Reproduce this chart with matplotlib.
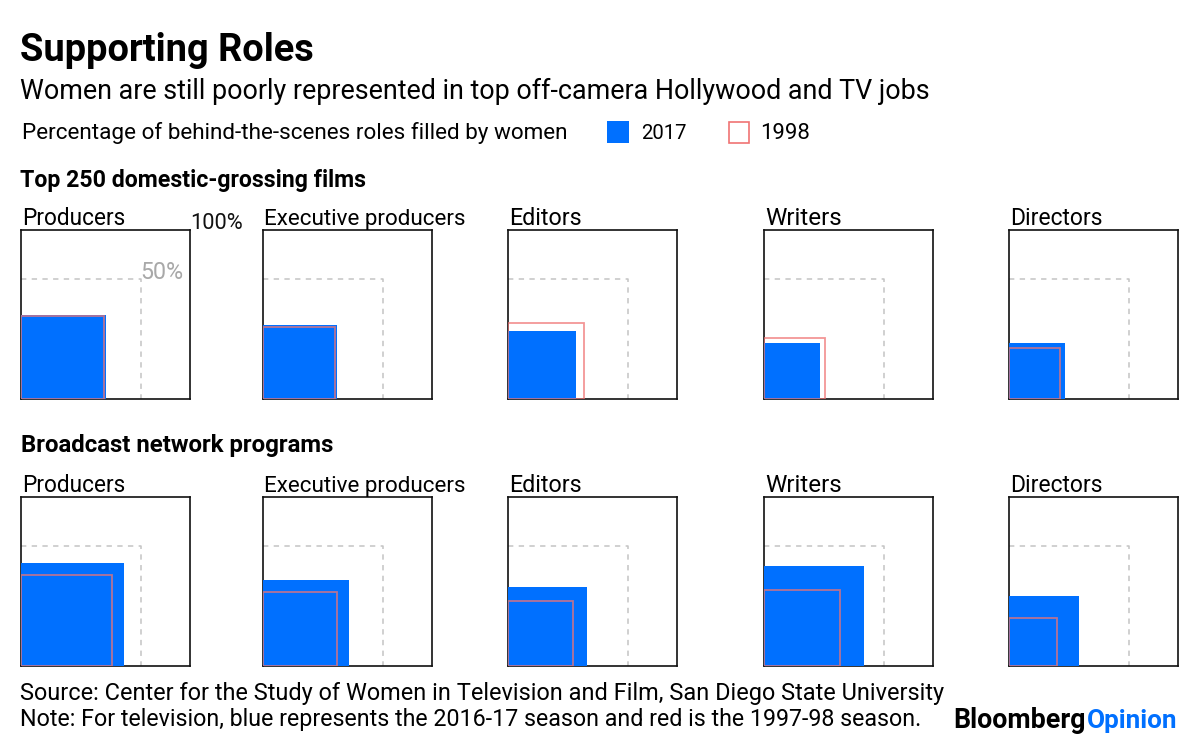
import matplotlib
matplotlib.use("Agg")
import matplotlib.pyplot as plt
from matplotlib.patches import Rectangle
import numpy as np

# ---- data (percent of roles filled by women) ----
roles = ["Producers", "Executive producers", "Editors", "Writers", "Directors"]
film_2017 = [25, 19, 16, 11, 11]
film_1998 = [24, 18, 20, 13, 9]
tv_2017 = [37, 26, 22, 35, 17]
tv_1998 = [29, 19, 15, 20, 8]
sections = ["Top 250 domestic-grossing films", "Broadcast network programs"]
legend_labels = ["2017", "1998"]

BLUE = "#0070ff"
RED = "#f07373"
FONT = "Roboto"

W, H = 1200, 747
fig = plt.figure(figsize=(W / 100, H / 100), dpi=100)
fig.patch.set_facecolor("white")


def fx(x):
    return x / W


def fy(y):
    return 1 - y / H


renderer = fig.canvas.get_renderer()


def fit(t, width):
    bb = t.get_window_extent(renderer=renderer)
    if width is not None and bb.width > 0:
        t.set_fontsize(t.get_fontsize() * width / bb.width)
    return t


def fit_text(x, y, s, width, size, **kw):
    t = fig.text(fx(x), fy(y), s, fontsize=size, **kw)
    return fit(t, width)


# header texts
fit_text(20, 61, "Supporting Roles", 294, 20, fontweight="bold", family=FONT, va="baseline")
fit_text(20, 99, "Women are still poorly represented in top off-camera Hollywood and TV jobs",
         910, 17, family=FONT, va="baseline")
fit_text(22, 139, "Percentage of behind-the-scenes roles filled by women", 549, 14,
         family=FONT, va="baseline")

# legend squares
lax = fig.add_axes([0, 0, 1, 1], zorder=-1)
lax.set_xlim(0, W)
lax.set_ylim(H, 0)
lax.axis("off")
lax.add_patch(Rectangle((607, 121), 22, 22, facecolor=BLUE, edgecolor="none"))
lax.add_patch(Rectangle((728.5, 121.5), 20, 21, facecolor="none", edgecolor=RED, lw=1.2))
fit_text(641, 139, legend_labels[0], 46, 14, family=FONT, va="baseline")
fit_text(760, 139, legend_labels[1], 50, 14, family=FONT, va="baseline")

# section headers
fit_text(20, 187, sections[0], 347, 13, family=FONT, fontweight="bold", va="baseline")
fit_text(21, 452, sections[1], 313, 13, family=FONT, fontweight="bold", va="baseline")

col_left = [21, 263, 508, 764, 1009]
row_top = [230, 497]
SIDE = 169
label_w = [104, 202, 73, 77, 93]

for r, (v17, v98) in enumerate([(film_2017, film_1998), (tv_2017, tv_1998)]):
    for c in range(5):
        left = col_left[c]
        top = row_top[r]
        ax = fig.add_axes([fx(left), fy(top + SIDE), SIDE / W, SIDE / H])
        ax.set_xscale("function", functions=(np.sqrt, np.square))
        ax.set_yscale("function", functions=(np.sqrt, np.square))
        ax.set_xlim(0, 100)
        ax.set_ylim(0, 100)
        ax.set_xticks([])
        ax.set_yticks([])
        for sp in ax.spines.values():
            sp.set_linewidth(1.2)
            sp.set_color("#111111")
        ax.plot([0, 50, 50], [50, 50, 0], ls=(0, (3.5, 3.5)), color="#c4c4c4", lw=1.1)
        ax.add_patch(Rectangle((0, 0), v17[c], v17[c], facecolor=BLUE, edgecolor="none", zorder=3))
        ax.add_patch(Rectangle((0, 0), v98[c], v98[c], facecolor="none", edgecolor=RED,
                               lw=1.3, alpha=0.75, zorder=4))
        fit_text(left + 1, top - 5, roles[c], label_w[c], 14, family=FONT, va="baseline")
        if r == 0 and c == 0:
            t100 = ax.text(1.0, 1.0 + 1.0 / SIDE, "100%", transform=ax.transAxes,
                           ha="left", va="baseline", fontsize=14, family=FONT, color="#111111")
            fit(t100, 53)
            t50 = ax.text(50, 50, "50%", ha="left", va="baseline", fontsize=13, family=FONT,
                          color="#a8a8a8")
            fit(t50, 43)

# footer
fit_text(20, 700, "Source: Center for the Study of Women in Television and Film, San Diego State University",
         931, 14, family=FONT, va="baseline")
fit_text(20, 726, "Note: For television, blue represents the 2016-17 season and red is the 1997-98 season.",
         911, 14, family=FONT, va="baseline")
tb = fit_text(953, 728, "Bloomberg", 133, 15, family=FONT, fontweight="bold", va="baseline")
fit_text(1087, 728, "Opinion", 91, 15, family=FONT, fontweight="bold", va="baseline", color=BLUE)

fig.savefig("out.png", dpi=100, facecolor="white")
